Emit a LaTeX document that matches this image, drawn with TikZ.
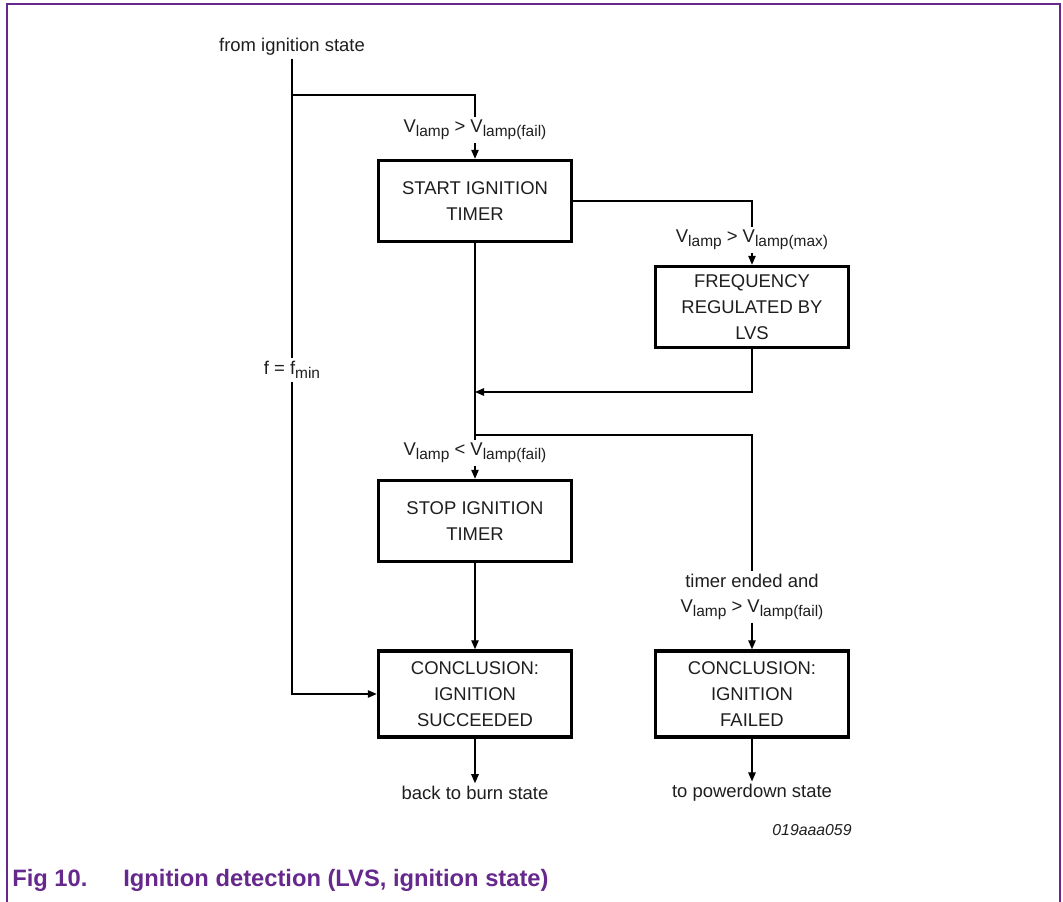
\documentclass[tikz,border=0pt]{standalone}
\usepackage{fontspec}
\setmainfont{Liberation Sans}
\usepackage{tikz}
\usetikzlibrary{arrows.meta,positioning,calc}
\definecolor{framepurple}{HTML}{66288C}
\definecolor{inkgray}{HTML}{1E1E1E}
\newcommand{\lampsub}[1]{\raisebox{-0.4ex}{\fontsize{8.8}{10}\selectfont #1}}
\tikzset{
  procbox/.style={draw=black,line width=2pt,align=center,inner sep=2pt,
    minimum width=3.86cm,minimum height=1.62cm,font=\fontsize{10.5}{14.6}\selectfont,text=inkgray},
  tallbox/.style={procbox,minimum height=1.72cm},
  condlabel/.style={align=center,inner sep=1.5pt,font=\fontsize{10.5}{14}\selectfont,text=inkgray},
  flowline/.style={line width=0.7pt},
  flowarrow/.style={flowline,-{Triangle[length=1.8mm,width=1.5mm]}}
}
\begin{document}
\begin{tikzpicture}[x=0.02cm,y=-0.02cm]
  \useasboundingbox (0,0) rectangle (1063,902);
  \draw[framepurple,line width=1.1pt] (7,902)--(7,4)--(1060,4)--(1060,902);

  \node[condlabel] (from) at (292,47) {from ignition state};
  \node[procbox] (start) at (475,201) {START IGNITION\\TIMER};
  \node[procbox] (freq) at (752,307) {FREQUENCY\\REGULATED BY\\LVS};
  \node[procbox] (stop) at (475,521) {STOP IGNITION\\TIMER};
  \node[tallbox] (succ) at (475,694) {CONCLUSION:\\IGNITION\\SUCCEEDED};
  \node[tallbox] (fail) at (752,694) {CONCLUSION:\\IGNITION\\FAILED};

  \node[condlabel] (lblfail) at (475,130) {V\lampsub{lamp} > V\lampsub{lamp(fail)}};
  \node[condlabel] (lblmax) at (752,240) {V\lampsub{lamp} > V\lampsub{lamp(max)}};
  \node[condlabel] (lblmin) at (292,370) {f = f\lampsub{min}};
  \node[condlabel] (lbllow) at (475,453) {V\lampsub{lamp} < V\lampsub{lamp(fail)}};
  \node[condlabel] (lbltimer) at (752,597) {timer ended and\\V\lampsub{lamp} > V\lampsub{lamp(fail)}};
  \node[condlabel] (back) at (475,793) {back to burn state};
  \node[condlabel] (power) at (752,793) {to powerdown state};

  \coordinate (split) at (292,95);
  \coordinate (merge) at (475,392);
  \coordinate (fork) at (475,435);

  \draw[flowline] (from.south) -- (lblmin.north);
  \draw[flowarrow] (lblmin.south) |- (succ.west);
  \draw[flowline] (split) -| (lblfail.north);
  \draw[flowarrow] (lblfail.south) -- (start.north);
  \draw[flowline] (start.east) -| (lblmax.north);
  \draw[flowarrow] (lblmax.south) -- (freq.north);
  \draw[flowarrow] (freq.south) |- (merge);
  \draw[flowline] (start.south) -- (lbllow.north);
  \draw[flowarrow] (lbllow.south) -- (stop.north);
  \draw[flowline] (fork) -| (lbltimer.north);
  \draw[flowarrow] (lbltimer.south) -- (fail.north);
  \draw[flowarrow] (stop.south) -- (succ.north);
  \draw[flowarrow] (succ.south) -- (back.north);
  \draw[flowarrow] (fail.south) -- (power.north);

  \node[font=\fontsize{9}{10}\itshape,text=inkgray] (code) at (812,830) {019aaa059};
  \node[anchor=west,font=\fontsize{13.5}{16}\bfseries,text=framepurple,inner sep=0pt] (caption) at (12,880)
    {\makebox[2.22cm][l]{Fig 10.}Ignition detection (LVS, ignition state)};
\end{tikzpicture}
\end{document}
